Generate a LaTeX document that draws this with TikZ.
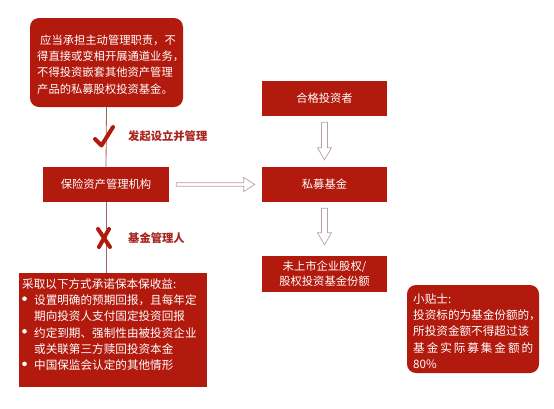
\documentclass[tikz,border=0pt]{standalone}
\usepackage{fontspec}
\setmainfont{Noto Sans CJK SC}
\usetikzlibrary{calc}
\definecolor{boxred}{RGB}{178,26,14}
\definecolor{linered}{RGB}{165,100,100}
\definecolor{arrowgray}{RGB}{190,160,160}
\definecolor{labelred}{RGB}{168,36,28}
\tikzset{
  redbox/.style={fill=boxred, draw=none, text=white, inner sep=0pt},
  boxtext/.style={text=white, inner sep=0pt, font=\fontsize{11.3}{16.2}\selectfont},
  hollow/.style={draw=arrowgray, line width=0.7pt, fill=white, line join=miter},
  conn/.style={draw=linered, line width=0.8pt},
  marker/.style={draw=boxred, line width=4pt},
  lbl/.style={text=labelred, inner sep=0pt, anchor=west, font=\fontsize{11.3}{14}\selectfont\bfseries}
}
\newcommand{\wbullet}{\makebox[12pt][l]{\raisebox{0.3em}{\tikz\fill[white] (0,0) circle (2.3pt);}}}
\begin{document}
\begin{tikzpicture}[x=1pt,y=-1pt]
\useasboundingbox (0,0) rectangle (554,408);
% boxes
\node[redbox, rounded corners=9pt, minimum width=153pt, minimum height=89pt] (top) at (106.5,62.5) {};
\node[redbox, minimum width=126pt, minimum height=35pt, font=\fontsize{11.3}{14}\selectfont] (inst) at (106,184.5) {保险资产管理机构};
\node[redbox, minimum width=188pt, minimum height=114pt] (bl) at (113,330) {};
\node[redbox, minimum width=125pt, minimum height=35pt, font=\fontsize{11.3}{14}\selectfont] (qual) at (324.5,98.5) {合格投资者};
\node[redbox, minimum width=125pt, minimum height=35pt, font=\fontsize{11.3}{14}\selectfont] (priv) at (324.5,184.5) {私募基金};
\node[redbox, minimum width=125pt, minimum height=36pt, align=center, font=\fontsize{11.3}{15}\selectfont] (unl) at (324.5,274) {未上市企业股权/\\股权投资基金份额};
\node[redbox, rounded corners=9pt, minimum width=132pt, minimum height=88pt] (tip) at (473,329) {};
% texts in boxes
\node[boxtext, anchor=west, align=left] (toptext) at (37,64.5) {\hspace*{3pt}应当承担主动管理职责，不\\得直接或变相开展通道业务，\\不得投资嵌套其他资产管理\\产品的私募股权投资基金。};
\node[boxtext, anchor=west, align=left, font=\fontsize{11.6}{16.3}\selectfont] (bltext) at (22,324.5) {采取以下方式承诺保本保收益:\\\wbullet 设置明确的预期回报，且每年定\\\hspace*{12pt}期向投资人支付固定投资回报\\\wbullet 约定到期、强制性由被投资企业\\\hspace*{12pt}或关联第三方赎回投资本金\\\wbullet 中国保监会认定的其他情形};
\node[boxtext, anchor=west, align=left, font=\fontsize{11.6}{16.2}\selectfont] (tiptext) at (413,331) {小贴士:\\投资标的为基金份额的，\\所投资金额不得超过该\\\makebox[120pt][s]{基 金 实 际 募 集 金 额 的}\\80\%};
% connectors
\draw[conn] (top.south) -- (inst.north);
\draw[conn] (inst.south) -- (inst.south |- bl.north);
% check and cross
\draw[marker, line cap=round, line join=round] (95,139) -- (101.5,145.5) -- (113,127);
\draw[marker, line cap=round] (98,229) -- (110,247);
\draw[marker, line cap=round] (109,229) -- (99,247);
\node[lbl] (l1) at (128,136) {发起设立并管理};
\node[lbl] (l2) at (128,238) {基金管理人};
% hollow arrows
\draw[hollow] ($(inst.east)+(7,-1.7)$) -- ($(priv.west)+(-18,-1.7)$) -- ($(priv.west)+(-18,-7)$) -- ($(priv.west)+(-7,0)$) -- ($(priv.west)+(-18,7)$) -- ($(priv.west)+(-18,1.7)$) -- ($(inst.east)+(7,1.7)$) -- cycle;
\draw[hollow] ($(qual.south)+(-3,6)$) -- ($(priv.north)+(-3,-19)$) -- ($(priv.north)+(-7,-19)$) -- ($(priv.north)+(0,-7)$) -- ($(priv.north)+(7,-19)$) -- ($(priv.north)+(3,-19)$) -- ($(qual.south)+(3,6)$) -- cycle;
\draw[hollow] ($(priv.south)+(-3,6)$) -- ($(unl.north)+(-3,-23)$) -- ($(unl.north)+(-7,-23)$) -- ($(unl.north)+(0,-11)$) -- ($(unl.north)+(7,-23)$) -- ($(unl.north)+(3,-23)$) -- ($(priv.south)+(3,6)$) -- cycle;
\end{tikzpicture}
\end{document}
